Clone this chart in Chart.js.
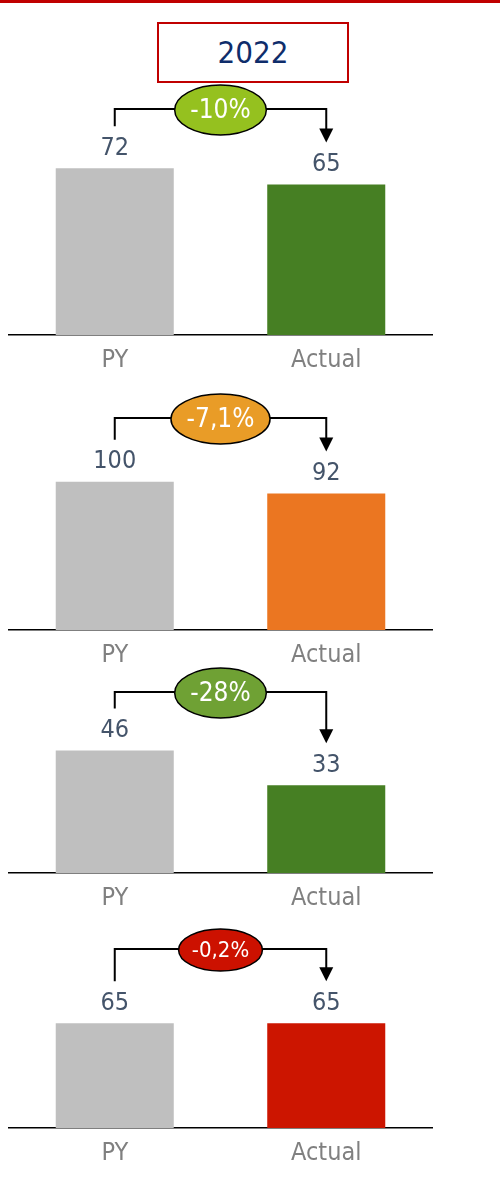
<!DOCTYPE html>
<html>
<head>
<meta charset="utf-8">
<script src="https://cdn.jsdelivr.net/npm/chart.js@4"></script>
<style>
  body {
    margin: 0;
    width: 500px;
    height: 1182px;
    position: relative;
    background: #fff;
    overflow: hidden;
    font-family: "DejaVu Sans Condensed", "DejaVu Sans", sans-serif;
  }
  .topline {
    position: absolute;
    left: 0; top: 0;
    width: 500px; height: 3px;
    background: #c00000;
  }
  .year {
    position: absolute;
    left: 157px; top: 22px;
    width: 188px; height: 57px;
    border: 2px solid #c00000;
    color: #0f2d6b;
    font-size: 31px;
    line-height: 57px;
    text-align: center;
  }
  canvas { position: absolute; left: 0; }
</style>
</head>
<body>
<div class="topline"></div>
<div class="year">2022</div>
<canvas id="p0"></canvas>
<canvas id="p1"></canvas>
<canvas id="p2"></canvas>
<canvas id="p3"></canvas>

<script>
const categories = ['PY', 'Actual'];
const pyValues = [72, 100, 46, 65];
const actualValues = [65, 92, 33, 65];
const deltaLabels = ['-10%', '-7,1%', '-28%', '-0,2%'];

const actualColors = ['#467f23', '#eb7621', '#467f23', '#cc1500'];
const deltaColors = ['#95c11f', '#e99c27', '#6fa134', '#cc1100'];
const deltaFontSizes = [26, 26, 26, 22];

// per-panel scale max and where each panel sits on the page
const axisMax = [97.6, 143, 68, 111];
const bracketY = [109, 418, 692, 949];
const baselineY = [334, 629, 872, 1127];

const FONT = '"DejaVu Sans Condensed", "DejaVu Sans", sans-serif';
const PAD_TOP = 30;
const AXIS_H = 51;

// value labels, the PY -> Actual bracket and the delta bubble
const bracketPlugin = {
  id: 'bracket',
  afterDatasetsDraw(chart, args, opts) {
    const ctx = chart.ctx;
    const bars = chart.getDatasetMeta(0).data;
    const vals = chart.data.datasets[0].data;
    const py = bars[0], act = bars[1];
    const top = chart.chartArea.top;

    ctx.save();
    ctx.font = '25px ' + FONT;
    ctx.fillStyle = '#44546a';
    ctx.textAlign = 'center';
    ctx.textBaseline = 'middle';
    bars.forEach((bar, i) => ctx.fillText(vals[i], bar.x, bar.y - 20));

    const tipY = act.y - 42;
    ctx.strokeStyle = '#000';
    ctx.lineWidth = 2;
    ctx.beginPath();
    ctx.moveTo(py.x, py.y - 42);
    ctx.lineTo(py.x, top);
    ctx.lineTo(act.x, top);
    ctx.lineTo(act.x, tipY - 12);
    ctx.stroke();

    ctx.fillStyle = '#000';
    ctx.beginPath();
    ctx.moveTo(act.x - 7, tipY - 14);
    ctx.lineTo(act.x + 7, tipY - 14);
    ctx.lineTo(act.x, tipY);
    ctx.closePath();
    ctx.fill();

    // bubble with the change in %
    const fs = opts.fontSize;
    ctx.font = fs + 'px ' + FONT;
    const w = ctx.measureText(opts.text).width;
    const cx = (py.x + act.x) / 2;
    const cy = top + 1;
    ctx.beginPath();
    ctx.ellipse(cx, cy, w / 2 + fs * 0.6, Math.min(fs * 0.96, 25), 0, 0, Math.PI * 2);
    ctx.fillStyle = opts.color;
    ctx.fill();
    ctx.lineWidth = 1.5;
    ctx.stroke();
    ctx.fillStyle = '#fff';
    ctx.fillText(opts.text, cx, cy + 1);
    ctx.restore();
  }
};

pyValues.forEach((pyVal, i) => {
  const canvas = document.getElementById('p' + i);
  const top = bracketY[i] - PAD_TOP;
  const height = baselineY[i] - bracketY[i] + PAD_TOP + AXIS_H;
  canvas.width = 500;
  canvas.height = height;
  canvas.style.top = top + 'px';

  new Chart(canvas, {
    type: 'bar',
    data: {
      labels: categories,
      datasets: [{
        data: [pyVal, actualValues[i]],
        backgroundColor: ['#bfbfbf', actualColors[i]],
        barPercentage: 0.558,
        categoryPercentage: 1.0
      }]
    },
    options: {
      responsive: false,
      animation: false,
      devicePixelRatio: 1,
      layout: { padding: { top: PAD_TOP, left: 9, right: 68, bottom: 0 } },
      plugins: {
        legend: { display: false },
        tooltip: { enabled: false },
        bracket: { text: deltaLabels[i], color: deltaColors[i], fontSize: deltaFontSizes[i] }
      },
      scales: {
        x: {
          grid: { display: false, drawTicks: false },
          border: { display: true, color: '#000', width: 1.5 },
          ticks: { color: '#808080', padding: 10, font: { size: 25, family: FONT } }
        },
        y: { display: false, min: 0, max: axisMax[i] }
      }
    },
    plugins: [bracketPlugin]
  });
});
</script>
</body>
</html>
